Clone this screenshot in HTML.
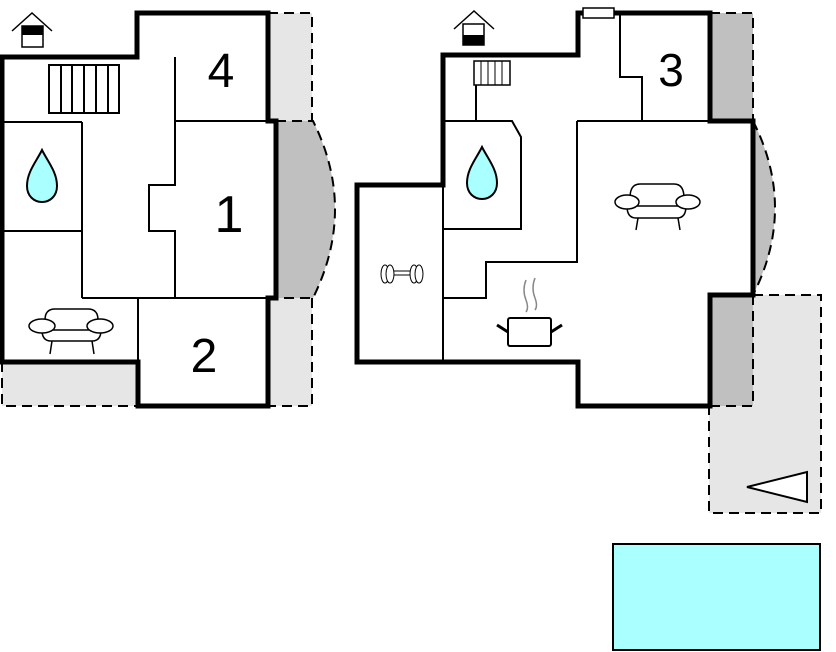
<!DOCTYPE html>
<html><head><meta charset="utf-8"><style>html,body{margin:0;padding:0;background:#fff}svg{display:block}</style></head><body>
<svg width="836" height="652" viewBox="0 0 836 652" xmlns="http://www.w3.org/2000/svg" font-family="Liberation Sans, sans-serif">
<!-- LEFT PLAN -->
<rect x="268" y="13" width="44" height="108" fill="#e6e6e6"/>
<rect x="268" y="298" width="44" height="108" fill="#e6e6e6"/>
<rect x="2" y="362" width="136" height="44" fill="#e6e6e6"/>
<path d="M276 121 L313 121 Q357 209 313 298 L276 298 Z" fill="#c0c0c0"/>
<g fill="none" stroke="#000" stroke-width="2" stroke-dasharray="10,6">
<path d="M268 13 H312 V121"/>
<path d="M276 121 H313 Q357 209 313 298 H276"/>
<path d="M312 298 V406 H268"/>
<path d="M2 362 V406 H138"/>
</g>
<g fill="none" stroke="#000" stroke-width="5">
<path d="M137 57 V13 H268 V121 H276 V298 H268 V406 H138 V362 H2 V57 Z"/>
</g>
<g fill="none" stroke="#000" stroke-width="2">
<path d="M175 57 V185 H149 V231 H175 V298"/>
<path d="M175 121 H268"/>
<path d="M82 298 H276"/>
<path d="M82 122 V298"/>
<path d="M2 122 H82"/>
<path d="M2 231 H82"/>
<path d="M138 298 V362"/>
<rect x="49" y="65" width="70" height="48"/>
<path d="M61 65V113M72 65V113M84 65V113M96 65V113M108 65V113"/>
</g>
<path d="M42 150 C36 162 27 172 27 186 C27 196 34 202 42 202 C50 202 57 196 57 186 C57 172 48 162 42 150 Z" fill="#aaffff" stroke="#000" stroke-width="2"/>
<g fill="#fff" stroke="#000" stroke-width="1.5">
<path d="M45 320 Q45 309 55 309 H88 Q98 309 98 320"/>
<path d="M42 330 H101 Q101 341 92 341 H51 Q42 341 42 330 Z"/>
<ellipse cx="42" cy="326" rx="13" ry="7"/>
<ellipse cx="100" cy="326" rx="13" ry="7"/>
<path d="M52 341 L50 354 M92 341 L94 354" fill="none"/>
</g>
<g fill="none" stroke="#000" stroke-width="1.5">
<path d="M12 31 L32 13 L52 31"/>
<rect x="22" y="26" width="21" height="21" fill="#fff"/>
</g>
<rect x="22" y="26" width="21" height="9" fill="#000"/>
<text x="221" y="87" font-size="48" text-anchor="middle">4</text>
<text x="229" y="232" font-size="52" text-anchor="middle">1</text>
<text x="204" y="372" font-size="48" text-anchor="middle">2</text>

<!-- RIGHT PLAN -->
<rect x="709" y="295" width="112" height="218" fill="#e6e6e6"/>
<rect x="710" y="13" width="43" height="108" fill="#c0c0c0"/>
<rect x="710" y="295" width="43" height="111" fill="#c0c0c0"/>
<path d="M753 121 Q797 208 753 295 Z" fill="#c0c0c0"/>
<g fill="none" stroke="#000" stroke-width="2" stroke-dasharray="10,6">
<path d="M710 13 H753 V121"/>
<path d="M753 121 Q797 208 753 295"/>
<path d="M753 295 H821 V513 H709 V406"/>
<path d="M710 406 H753 V295"/>
</g>
<g fill="none" stroke="#000" stroke-width="5">
<path d="M357 185 H443 V55 H578 V13 H710 V121 H753 V295 H710 V406 H578 V362 H357 Z"/>
</g>
<rect x="583" y="8" width="31" height="10" fill="#fff" stroke="#000" stroke-width="1.5"/>
<g fill="none" stroke="#000" stroke-width="2">
<path d="M443 185 V362"/>
<path d="M620 13 V77 H642 V121"/>
<path d="M577 121 H753"/>
<path d="M577 121 V262 H486 V298 H443"/>
<path d="M443 121 H512 L521 137 V229 H443"/>
<path d="M476 85 V121"/>
<rect x="474" y="61" width="36" height="24" fill="#fff" stroke-width="1.5"/>
<path d="M481 61V85M488 61V85M495 61V85M502 61V85" stroke-width="1"/>
<path d="M747 487 L807 472 L807 502 Z" fill="#fff"/>
</g>
<path d="M482 147 C476 159 467 169 467 183 C467 193 474 199 482 199 C490 199 497 193 497 183 C497 169 488 159 482 147 Z" fill="#aaffff" stroke="#000" stroke-width="2"/>
<g fill="#fff" stroke="#000" stroke-width="1.5">
<path d="M630 198 Q630 184 640 184 H674 Q684 184 684 198"/>
<path d="M627 206 H686 Q686 218 677 218 H636 Q627 218 627 206 Z"/>
<ellipse cx="627" cy="202" rx="12" ry="7"/>
<ellipse cx="688" cy="202" rx="12" ry="7"/>
<path d="M638 218 L636 230 M678 218 L680 230" fill="none"/>
</g>
<g fill="#fff" stroke="#000" stroke-width="1">
<rect x="386" y="271" width="32" height="4"/>
<ellipse cx="385" cy="274" rx="4" ry="9"/>
<ellipse cx="390" cy="274" rx="4" ry="9"/>
<ellipse cx="414" cy="274" rx="4" ry="9"/>
<ellipse cx="419" cy="274" rx="4" ry="9"/>
</g>
<g fill="none" stroke="#888" stroke-width="1.5">
<path d="M526 280 Q522 290 526 300 Q529 308 526 312"/>
<path d="M535 278 Q531 288 535 298 Q538 306 535 310"/>
</g>
<g stroke="#000" stroke-width="2" fill="#fff">
<rect x="508" y="318" width="43" height="28" rx="2"/>
<path d="M497 325 L508 332 M562 325 L551 332" stroke-width="3"/>
</g>
<g fill="none" stroke="#000" stroke-width="1.5">
<path d="M454 29 L474 11 L494 29"/>
<rect x="463" y="24" width="21" height="21" fill="#fff"/>
</g>
<rect x="463" y="35" width="21" height="10" fill="#000"/>
<text x="671" y="86" font-size="46" text-anchor="middle">3</text>

<!-- POOL -->
<rect x="613" y="544" width="207" height="106" fill="#aaffff" stroke="#000" stroke-width="2"/>
</svg>
</body></html>
